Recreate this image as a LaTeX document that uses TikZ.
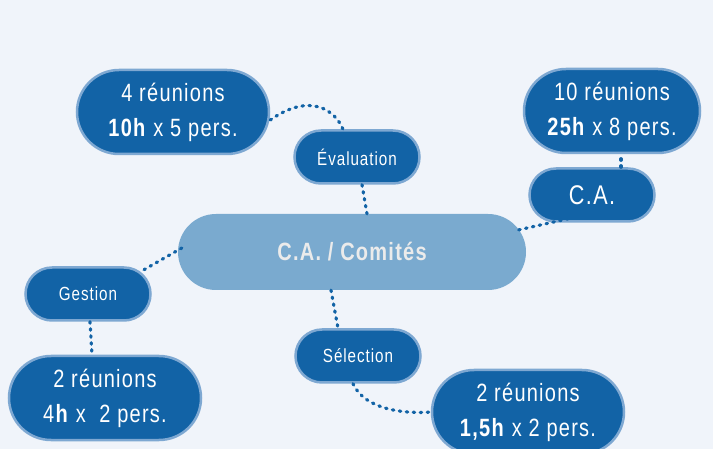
\documentclass[tikz,border=0pt]{standalone}
\usepackage{fontspec}
\setmainfont[FakeStretch=0.8,LetterSpace=5]{Liberation Sans}
\usetikzlibrary{shapes.misc}
\definecolor{bgc}{HTML}{F0F4FA}
\definecolor{darkb}{HTML}{1263A6}
\definecolor{rimb}{HTML}{7EA8D2}
\definecolor{centreb}{HTML}{7AAACF}
\begin{document}
\begin{tikzpicture}[x=1pt, y=-1pt,
  every node/.style = {rounded rectangle, align=center, inner sep=0pt},
  pill/.style = {fill=darkb, draw=rimb, line width=2.5pt, text=white},
  topic/.style = {pill, minimum width=125pt, minimum height=53pt, font=\fontsize{19}{22}\selectfont},
  facts/.style = {pill, minimum width=192pt, minimum height=84pt, font=\fontsize{25}{35}\selectfont},
  centre/.style = {fill=centreb, minimum width=348pt, minimum height=76pt, text=white!92!black, font=\fontsize{25}{30}\selectfont\bfseries},
  link/.style = {draw=darkb, line width=3.2pt, line cap=round, dash pattern=on 1.5pt off 5.5pt},
  ]
  \fill[bgc] (0,0) rectangle (713,449);
  \useasboundingbox (0,0) rectangle (713,449);

  \node[centre] (root) at (352,252) {C.A. / Comités};

  \node[topic] (eval) at (357,157) {Évaluation};
  \node[topic, font=\fontsize{27}{30}\selectfont] (ca) at (592,195) {C.A.};
  \node[topic] (gest) at (88,294) {Gestion};
  \node[topic] (sel) at (358,356) {Sélection};

  \node[facts] (evalf) at (173,112) {4 réunions\\\textbf{10h} x 5 pers.};
  \node[facts, minimum width=176pt] (caf) at (612,111) {10 réunions\\\textbf{25h} x 8 pers.};
  \node[facts] (gestf) at (105,398) {2 réunions\\4\textbf{h} x~ 2 pers.};
  \node[facts] (self) at (528,412) {2 réunions\\\textbf{1,5h} x 2 pers.};

  % connectors
  \draw[link] ([yshift=-8]evalf.east) .. controls (310,92) and (335,110) .. (eval.north -| 343,0);
  \draw[link] (eval.south -| 362,0) -- (root.north -| 367,0);
  \draw[link] ([shift={(12,-4)}]ca.south west) -- ([shift={(-8,-22)}]root.east);
  \draw[link] (ca.north -| 621,0) -- (caf.south -| 621,0);
  \draw[link] ([shift={(4,-4)}]root.west) -- ([shift={(52,-22)}]gest.center);
  \draw[link] (gest.south -| 90,0) -- (gestf.north -| 92,0);
  \draw[link] (root.south -| 331,0) -- (sel.north -| 338,0);
  \draw[link] (sel.south -| 353,0) .. controls (365,410) and (405,414) .. (self.west);
\end{tikzpicture}
\end{document}
